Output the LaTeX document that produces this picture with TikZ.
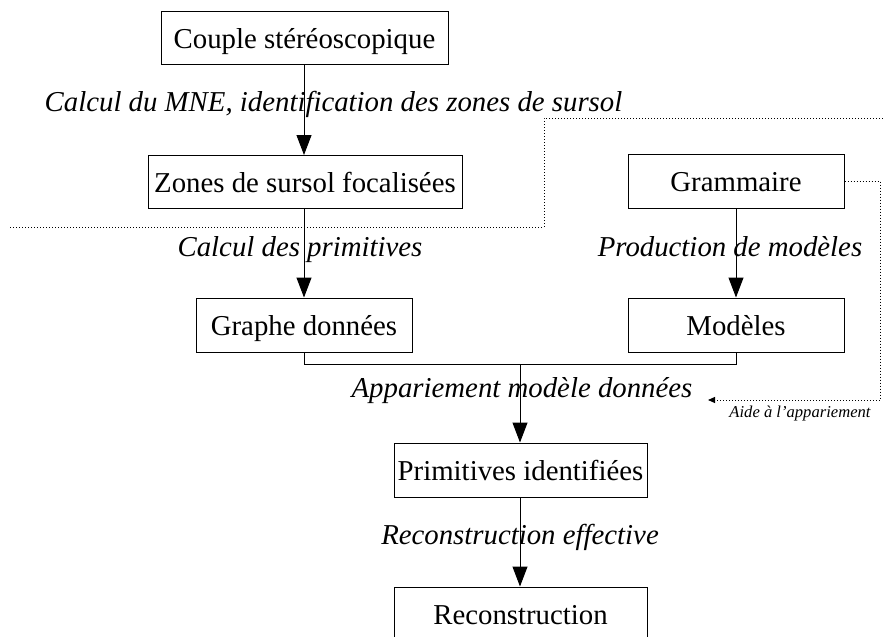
\documentclass[tikz,border=0pt]{standalone}
\usepackage{fontspec}
\setmainfont{Liberation Serif}
\usetikzlibrary{arrows.meta}
\begin{document}
\begin{tikzpicture}[x=0.5pt,y=-0.5pt,
  box/.style={draw,line width=0.5pt,inner sep=0pt,text height=11.5pt,text depth=1pt,font=\fontsize{14.4pt}{17pt}\selectfont},
  lab/.style={inner sep=0pt,anchor=base,font=\fontsize{14.4pt}{17pt}\selectfont\itshape},
  smalllab/.style={inner sep=0pt,anchor=base,font=\fontsize{8.3pt}{10pt}\selectfont\itshape},
  flow/.style={line width=0.5pt,-{Triangle[length=10pt,width=7.5pt]}},
  link/.style={line width=0.5pt},
  dotline/.style={line width=0.5pt,dash pattern=on 0.5pt off 1pt},
  dotarrow/.style={dotline,-{Triangle[length=3.5pt,width=3pt]}}]
\fill[white] (0,0) rectangle (885,637);
\clip (0,0) rectangle (885,637);
\useasboundingbox (0,0) rectangle (885,637);

\node[box,minimum width=143.5pt,minimum height=26.5pt] (couple) at (304.5,37.5) {Couple stéréoscopique};
\node[box,minimum width=157pt,minimum height=26.5pt] (zones) at (305,181.5) {Zones de sursol focalisées};
\node[box,minimum width=108pt,minimum height=27pt] (graphe) at (304,325) {Graphe données};
\node[box,minimum width=108pt,minimum height=27pt] (gram) at (736,181) {Grammaire};
\node[box,minimum width=108pt,minimum height=27pt] (mod) at (736,325) {Modèles};
\node[box,minimum width=126.5pt,minimum height=27pt] (prim) at (520.5,470) {Primitives identifiées};
\node[box,minimum width=126.5pt,minimum height=27pt] (rec) at (520.5,614) {Reconstruction};

\coordinate (join) at (520,364);

\draw[flow] (couple.south -| 304,0) -- (304,155);
\draw[flow] (zones.south -| 304,0) -- (graphe.north);
\draw[flow] (gram.south) -- (mod.north);
\draw[link] (graphe.south) -- (graphe.south |- join) -- (mod.south |- join) -- (mod.south);
\draw[flow] (join) -- (prim.north -| join);
\draw[flow] (prim.south -| join) -- (rec.north -| join);

\coordinate (d1) at (10,227);
\coordinate (d2) at (544,227);
\coordinate (d3) at (544,118);
\coordinate (d4) at (885,118);
\draw[dotline] (d1) -- (d2) -- (d3) -- (d4);

\coordinate (a1) at (880,181);
\coordinate (a2) at (880,400);
\coordinate (a3) at (708,400);
\draw[dotarrow] (gram.east) -- (a1) -- (a2) -- (a3);

\node[lab] (l1) at (333.5,112) {Calcul du MNE, identification des zones de sursol};
\node[lab] (l2) at (300,256) {Calcul des primitives};
\node[lab] (l3) at (730,256) {Production de modèles};
\node[lab] (l4) at (522,397) {Appariement modèle données};
\node[smalllab] (l5) at (800,417) {Aide à l’appariement};
\node[lab] (l6) at (520,544) {Reconstruction effective};
\end{tikzpicture}
\end{document}
